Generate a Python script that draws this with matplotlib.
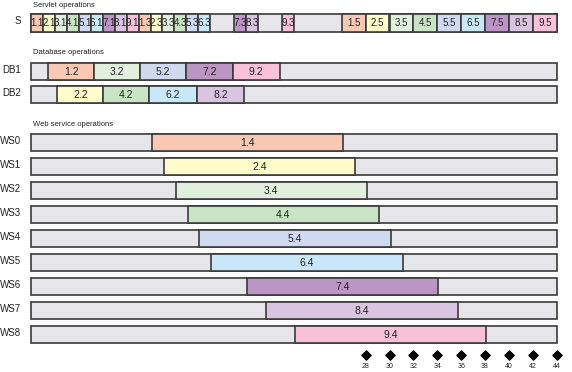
import matplotlib
matplotlib.use("Agg")
import matplotlib.pyplot as plt

plt.rcParams['font.family'] = ['Liberation Sans', 'DejaVu Sans']

# timeline data (time units)
total_span = 44

servlet_labels = ["1.1", "2.1", "3.1", "4.1", "5.1", "6.1", "7.1", "8.1", "9.1",
                  "1.3", "2.3", "3.3", "4.3", "5.3", "6.3", "7.3", "8.3", "9.3",
                  "1.5", "2.5", "3.5", "4.5", "5.5", "6.5", "7.5", "8.5", "9.5"]
servlet_starts = [0, 1, 2, 3, 4, 5, 6, 7, 8,
                  9, 10, 11, 12, 13, 14, 17, 18, 21,
                  26, 28, 30, 32, 34, 36, 38, 40, 42]
servlet_durations = [1, 1, 1, 1, 1, 1, 1, 1, 1,
                     1, 1, 1, 1, 1, 1, 1, 1, 1,
                     2, 2, 2, 2, 2, 2, 2, 2, 2]

db1_labels = ["1.2", "3.2", "5.2", "7.2", "9.2"]
db1_starts = [1.4, 5.3, 9.1, 13.0, 16.9]
db1_durations = [3.9, 3.8, 3.9, 3.9, 3.9]

db2_labels = ["2.2", "4.2", "6.2", "8.2"]
db2_starts = [2.2, 6.05, 9.9, 13.9]
db2_durations = [3.85, 3.85, 4.0, 3.9]

ws_rows = ["WS0", "WS1", "WS2", "WS3", "WS4", "WS5", "WS6", "WS7", "WS8"]
ws_labels = ["1.4", "2.4", "3.4", "4.4", "5.4", "6.4", "7.4", "8.4", "9.4"]
ws_starts = [10.15, 11.15, 12.1, 13.1, 14.1, 15.1, 18.1, 19.7, 22.1]
ws_durations = [16.0, 16.0, 16.0, 16.0, 16.0, 16.0, 16.0, 16.0, 16.0]

tick_values = [28, 30, 32, 34, 36, 38, 40, 42, 44]

op_colors = {"1": "#f9c8b2", "2": "#fffbcb", "3": "#e0f0dd", "4": "#c9e4c5",
             "5": "#cfdaf1", "6": "#c8e8f8", "7": "#bb95c4", "8": "#d9c5e1",
             "9": "#f8c1d8"}
bg_color = "#e6e6ea"
edge = "#3a3a3a"

# layout: pixel scale
px_per_unit = 11.95
x0_px = 31
W, H = 572, 372

fig = plt.figure(figsize=(W / 100, H / 100), dpi=100)
ax = fig.add_axes([0, 0, 1, 1])
ax.set_xlim(-x0_px / px_per_unit, (W - x0_px) / px_per_unit)
ax.set_ylim(H, 0)
ax.axis("off")

bar_h = 17.5


def draw_row(y, name, labels, starts, durations, fs=7.5):
    ax.barh(y, total_span, left=0, height=bar_h, color=bg_color,
            edgecolor=edge, linewidth=1.2, zorder=1)
    ax.barh(y, durations, left=starts, height=bar_h,
            color=[op_colors[l[0]] for l in labels],
            edgecolor=edge, linewidth=1.2, zorder=2)
    for l, s, d in zip(labels, starts, durations):
        ax.text(s + d / 2, y + 0.5, l, ha="center", va="center",
                fontsize=fs, color="#222222", zorder=3)
    ax.text(-10 / px_per_unit, y - 1.5, name, ha="right", va="center",
            fontsize=7, color="#222222")


def header(y, txt):
    ax.text(2 / px_per_unit, y, txt, ha="left", va="center",
            fontsize=5.5, color="#222222")


header(5.5, "Servlet operations")
draw_row(22.8, "S", servlet_labels, servlet_starts, servlet_durations, fs=7)

header(52, "Database operations")
draw_row(71.3, "DB1", db1_labels, db1_starts, db1_durations)
draw_row(94.7, "DB2", db2_labels, db2_starts, db2_durations)

header(124.5, "Web service operations")
for i, name in enumerate(ws_rows):
    draw_row(142.7 + i * 23.98, name, [ws_labels[i]], [ws_starts[i]],
             [ws_durations[i]])

ax.scatter(tick_values, [355] * len(tick_values), marker="D", s=22,
           color="black", zorder=3)
for t in tick_values:
    ax.text(t, 367, str(t), ha="center", va="center", fontsize=5,
            color="#222222")

plt.savefig("out.png", dpi=100)
